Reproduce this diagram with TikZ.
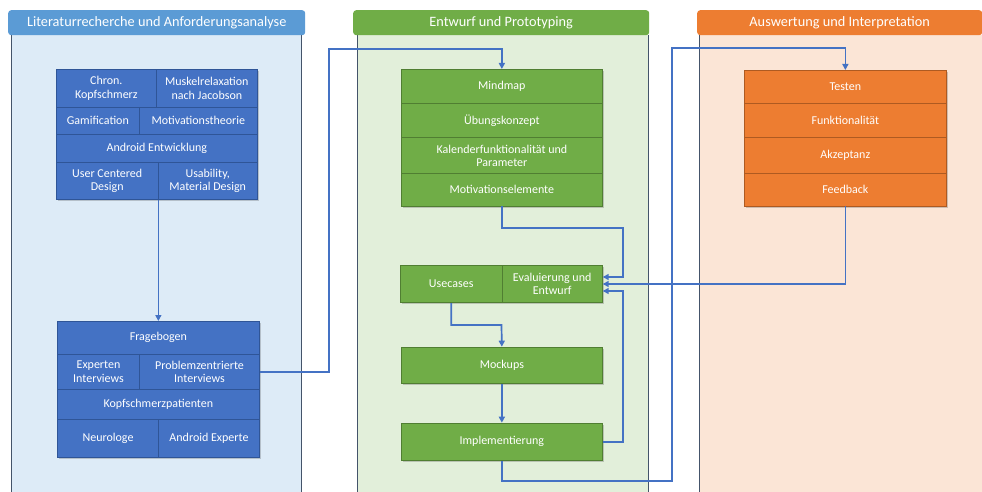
\documentclass[tikz,border=0pt]{standalone}
\usepackage{fontspec}
\setmainfont{Carlito}
\usetikzlibrary{arrows.meta}
\definecolor{hblue}{HTML}{5B9BD5}
\definecolor{pblue}{HTML}{DDEBF7}
\definecolor{cblue}{HTML}{4472C4}
\definecolor{lblue}{HTML}{2F5597}
\definecolor{hgreen}{HTML}{70AD47}
\definecolor{pgreen}{HTML}{E2EFDA}
\definecolor{cgreen}{HTML}{70AD47}
\definecolor{lgreen}{HTML}{507E32}
\definecolor{horange}{HTML}{ED7D31}
\definecolor{porange}{HTML}{FBE5D6}
\definecolor{corange}{HTML}{ED7D31}
\definecolor{lorange}{HTML}{AE5A21}
\definecolor{sideline}{HTML}{44546A}
\definecolor{flow}{HTML}{4472C4}
\begin{document}
\begin{tikzpicture}[x=1pt,y=-1pt,
    header/.style={rounded corners=3pt, text=white, anchor=north west, minimum height=25pt,
        inner sep=0pt, font=\fontsize{14.3}{16}\selectfont},
    cell/.style={rectangle, anchor=north west, inner sep=1pt, align=center, text=white,
        line width=0.7pt, font=\fontsize{12}{13.5}\selectfont},
    bcell/.style={cell, fill=cblue, draw=lblue},
    gcell/.style={cell, fill=cgreen, draw=lgreen},
    ocell/.style={cell, fill=corange, draw=lorange},
    sz/.style 2 args={minimum width=#1, minimum height=#2},
    shade/.style={fill=black, opacity=0.18},
    flowline/.style={draw=flow, line width=1.7pt, -{Triangle[length=6pt,width=6pt]}}]
\useasboundingbox (0,0) rectangle (982,492);
% panels
\fill[pblue] (11,35) rectangle (301,492);
\fill[pgreen] (357,35) rectangle (648,492);
\fill[porange] (699,35) rectangle (982,492);
\draw[sideline, line width=0.7pt] (11,35) -- (11,492) (301,35) -- (301,492);
\draw[sideline, line width=0.7pt] (357,35) -- (357,492) (648,35) -- (648,492);
\draw[sideline, line width=0.7pt] (699,35) -- (699,492);
% headers
\node[header, fill=hblue, minimum width=297pt] (hlit) at (8,10) {Literaturrecherche und Anforderungsanalyse};
\node[header, fill=hgreen, minimum width=296pt] (hentw) at (353,10) {Entwurf und Prototyping};
\node[header, fill=horange, minimum width=285pt] (hausw) at (697,10) {Auswertung und Interpretation};
% shadows
\fill[shade] (58,71) rectangle (259,201);
\fill[shade] (59,323) rectangle (261,459);
\fill[shade] (403,71) rectangle (604,208);
\fill[shade] (402,267) rectangle (604,304);
\fill[shade] (403,349) rectangle (604,385);
\fill[shade] (403,425) rectangle (604,462);
\fill[shade] (746,72) rectangle (948,208);
% literature block
\node[bcell, sz={100pt}{37.7pt}] (chron) at (56,69) {Chron.\\Kopfschmerz};
\node[bcell, sz={101pt}{37.7pt}] (muskel) at (156,69) {Muskelrelaxation\\nach Jacobson};
\node[bcell, sz={83pt}{27.6pt}] (gamif) at (56,106.7) {Gamification};
\node[bcell, sz={118pt}{27.6pt}] (motiv) at (139,106.7) {Motivationstheorie};
\node[bcell, sz={201pt}{27.7pt}] (android) at (56,134.3) {Android Entwicklung};
\node[bcell, sz={101.7pt}{37pt}] (ucd) at (56,162) {User Centered\\Design};
\node[bcell, sz={99.3pt}{37pt}] (usab) at (157.7,162) {Usability,\\Material Design};
% requirements block
\node[bcell, sz={202pt}{33pt}] (frage) at (57,321) {Fragebogen};
\node[bcell, sz={82.3pt}{34.7pt}] (experten) at (57,354) {Experten\\Interviews};
\node[bcell, sz={119.7pt}{34.7pt}] (probl) at (139.3,354) {Problemzentrierte\\Interviews};
\node[bcell, sz={202pt}{30.6pt}] (patient) at (57,388.7) {Kopfschmerzpatienten};
\node[bcell, sz={101.3pt}{37.4pt}] (neuro) at (57,419.3) {Neurologe};
\node[bcell, sz={100.7pt}{37.4pt}] (andexp) at (158.3,419.3) {Android Experte};
% design block
\node[gcell, sz={201pt}{34.3pt}] (mindmap) at (401,69) {Mindmap};
\node[gcell, sz={201pt}{34pt}] (uebung) at (401,103.3) {Übungskonzept};
\node[gcell, sz={201pt}{36pt}] (kalender) at (401,137.3) {Kalenderfunktionalität und\\Parameter};
\node[gcell, sz={201pt}{32.4pt}] (motel) at (401,173.3) {Motivationselemente};
\node[gcell, sz={101.7pt}{37.3pt}] (usecases) at (400,265) {Usecases};
\node[gcell, sz={100.3pt}{37.3pt}] (evalu) at (501.7,265) {Evaluierung und\\Entwurf};
\node[gcell, sz={201pt}{36.6pt}] (mockups) at (401,346.7) {Mockups};
\node[gcell, sz={201pt}{37.3pt}] (impl) at (401,422.7) {Implementierung};
% evaluation block
\node[ocell, sz={202pt}{33.3pt}] (testen) at (744,70) {Testen};
\node[ocell, sz={202pt}{34pt}] (funk) at (744,103.3) {Funktionalität};
\node[ocell, sz={202pt}{35.4pt}] (akz) at (744,137.3) {Akzeptanz};
\node[ocell, sz={202pt}{33pt}] (feedback) at (744,172.7) {Feedback};
% bends
\coordinate (bendL) at (329,49);
\coordinate (bendA) at (623,228);
\coordinate (bendU) at (501.5,325);
\coordinate (bendC) at (672,481);
\coordinate (bendD) at (672,48);
% connectors
\draw[flowline] (frage.north |- usab.south) -- (frage.north);
\draw[flowline] (probl.east) -| (bendL) -| (mindmap.north);
\draw[flowline] (motel.south) |- (bendA) |- ([yshift=7pt]evalu.east);
\draw[flowline] (feedback.south) |- (evalu.east);
\draw[flowline] (impl.east) -- (impl.east -| bendA) |- ([yshift=-7pt]evalu.east);
\draw[flowline] (usecases.south) |- (bendU) -- (mockups.north);
\draw[flowline] (mockups.south) -- (impl.north);
\draw[flowline] (impl.south) |- (bendC) -- (bendD) -| (testen.north);
\end{tikzpicture}
\end{document}
